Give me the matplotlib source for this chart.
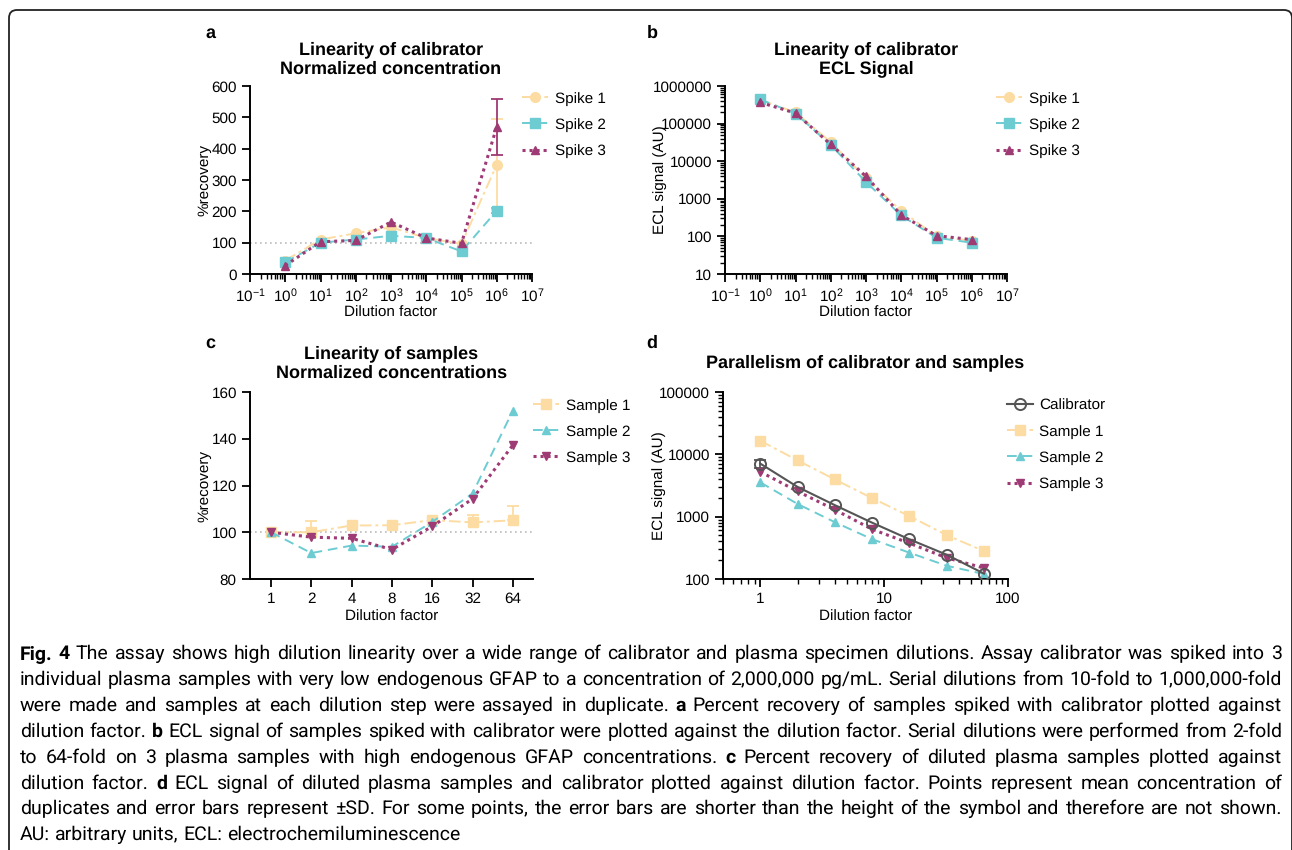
import matplotlib.pyplot as plt
import numpy as np
from matplotlib.patches import FancyBboxPatch
from matplotlib.transforms import IdentityTransform
from matplotlib.ticker import LogLocator, NullLocator, FixedLocator, FuncFormatter, NullFormatter

# ---- data ----
dilution_ab = [1, 10, 100, 1e3, 1e4, 1e5, 1e6]
spike1_rec = [43, 110, 130, 149, 115, 96, 349]
spike2_rec = [37, 100, 110, 122, 115, 72, 202]
spike3_rec = [27, 103, 107, 166, 115, 98, 470]
spike1_rec_sd = [0, 0, 0, 0, 0, 0, 145]
spike2_rec_sd = [0, 0, 0, 0, 0, 0, 8]
spike3_rec_sd = [0, 0, 0, 0, 0, 0, 89]

spike1_ecl = [425000, 200000, 32000, 3500, 480, 100, 77]
spike2_ecl = [440000, 185000, 27000, 2800, 360, 92, 68]
spike3_ecl = [365000, 190000, 28000, 3950, 370, 105, 82]

dilution_cd = [1, 2, 4, 8, 16, 32, 64]
sample1_rec = [100, 100, 102.9, 103, 105.2, 104.2, 105.1]
sample1_rec_sd = [0, 5, 0, 0, 0, 3.3, 6.2]
sample2_rec = [100, 91.1, 94.3, 93.8, 104.4, 116.6, 152]
sample3_rec = [100, 97.9, 97.4, 92.6, 102.5, 114.3, 137.3]

calibrator_ecl = [7100, 3000, 1530, 800, 433, 245, 122]
calibrator_ecl_sd = [1100, 0, 0, 0, 0, 0, 0]
sample1_ecl = [16500, 8000, 3950, 1980, 1020, 505, 280]
sample2_ecl = [3550, 1600, 815, 435, 264, 163, 120]
sample3_ecl = [5250, 2550, 1290, 627, 375, 218, 150]

# words wrapped in ** are bold
caption_lines = [
    "**Fig.** **4** The assay shows high dilution linearity over a wide range of calibrator and plasma specimen dilutions. Assay calibrator was spiked into 3",
    "individual plasma samples with very low endogenous GFAP to a concentration of 2,000,000 pg/mL. Serial dilutions from 10-fold to 1,000,000-fold",
    "were made and samples at each dilution step were assayed in duplicate. **a** Percent recovery of samples spiked with calibrator plotted against",
    "dilution factor. **b** ECL signal of samples spiked with calibrator were plotted against the dilution factor. Serial dilutions were performed from 2-fold",
    "to 64-fold on 3 plasma samples with high endogenous GFAP concentrations. **c** Percent recovery of diluted plasma samples plotted against",
    "dilution factor. **d** ECL signal of diluted plasma samples and calibrator plotted against dilution factor. Points represent mean concentration of",
    "duplicates and error bars represent \u00b1SD. For some points, the error bars are shorter than the height of the symbol and therefore are not shown.",
    "AU: arbitrary units, ECL: electrochemiluminescence",
]

C1 = "#FCDCA2"
C2 = "#6CCCD2"
C3 = "#9E3A74"
CC = "#555555"

plt.rcParams['font.family'] = ['Liberation Sans', 'DejaVu Sans']
plt.rcParams['text.hinting'] = 'no_hinting'

W, H = 1292, 850
fig = plt.figure(figsize=(W / 100, H / 100), dpi=100)


def box(l, t, r, b):
    return [l / W, 1 - b / H, (r - l) / W, (b - t) / H]


def style(ax):
    for s in ['top', 'right']:
        ax.spines[s].set_visible(False)
    for s in ['left', 'bottom']:
        ax.spines[s].set_linewidth(1.4)
    ax.tick_params(which='major', length=6, width=1.3, labelsize=11, direction='out')
    ax.tick_params(which='minor', length=3.5, width=1.0)


plain = FuncFormatter(lambda v, p: f"{v:.0f}")
ls1 = (0, (6, 2, 1.5, 2))
ls2 = (0, (5, 3))
ls3 = (0, (1, 1.3))

series_ab = [
    ("Spike 1", C1, 'o', ls1, 1.4, 7),
    ("Spike 2", C2, 's', ls2, 1.4, 7),
    ("Spike 3", C3, '^', ls3, 2.2, 6),
]


def log_decades(ax):
    ax.set_xscale('log')
    ax.set_xlim(0.1, 1e7)
    ax.xaxis.set_major_locator(LogLocator(base=10, numticks=20))
    ax.xaxis.set_minor_locator(LogLocator(base=10, subs=np.arange(2, 10), numticks=20))
    ax.xaxis.set_minor_formatter(NullFormatter())


def add_legend(ax, x, y):
    ax.legend(loc='upper left', bbox_to_anchor=(x, y), frameon=False, fontsize=11,
              handlelength=1.7, handletextpad=0.45, labelspacing=0.8,
              borderpad=0, borderaxespad=0)


# ---- panel a ----
ax = fig.add_axes(box(250, 86, 532, 274))
style(ax)
log_decades(ax)
ax.axhline(100, color='#bbbbbb', ls=(0, (1, 2)), lw=1.2, zorder=0)
for (lab, col, mk, ls, lw, ms), y, sd in zip(series_ab, [spike1_rec, spike2_rec, spike3_rec],
                                            [spike1_rec_sd, spike2_rec_sd, spike3_rec_sd]):
    x_e = [x for x, s in zip(dilution_ab, sd) if s > 0]
    y_e = [v for v, s in zip(y, sd) if s > 0]
    s_e = [s for s in sd if s > 0]
    ax.errorbar(x_e, y_e, yerr=s_e, fmt='none', ecolor=col, elinewidth=1.3, capsize=4, capthick=1.3)
    ax.plot(dilution_ab, y, color=col, marker=mk, ls=ls, lw=lw, ms=ms, label=lab)
ax.set_ylim(0, 600)
ax.set_yticks([0, 100, 200, 300, 400, 500, 600])
ax.set_title("Linearity of calibrator\nNormalized concentration", fontsize=13, fontweight='bold', pad=9)
ax.set_ylabel("%recovery", fontsize=11)
ax.set_xlabel("Dilution factor", fontsize=11)
ax.yaxis.set_label_coords(-0.135, 0.5)
ax.xaxis.set_label_coords(0.5, -0.17)
add_legend(ax, 0.965, 0.97)

# ---- panel b ----
ax = fig.add_axes(box(725, 86, 1007, 274))
style(ax)
log_decades(ax)
for (lab, col, mk, ls, lw, ms), y in zip(series_ab, [spike1_ecl, spike2_ecl, spike3_ecl]):
    ax.plot(dilution_ab, y, color=col, marker=mk, ls=ls, lw=lw, ms=ms, label=lab)
ax.set_yscale('log')
ax.set_ylim(10, 1e6)
ax.yaxis.set_major_locator(LogLocator(base=10, numticks=20))
ax.yaxis.set_minor_locator(LogLocator(base=10, subs=np.arange(2, 10), numticks=20))
ax.yaxis.set_major_formatter(plain)
ax.yaxis.set_minor_formatter(NullFormatter())
ax.set_title("Linearity of calibrator\nECL Signal", fontsize=13, fontweight='bold', pad=9)
ax.set_ylabel("ECL signal (AU)", fontsize=11)
ax.set_xlabel("Dilution factor", fontsize=11)
ax.yaxis.set_label_coords(-0.206, 0.5)
ax.xaxis.set_label_coords(0.5, -0.17)
add_legend(ax, 0.962, 0.97)

# ---- panel c ----
series_cd = [
    ("Sample 1", C1, 's', ls1, 1.4, 7),
    ("Sample 2", C2, '^', ls2, 1.4, 6),
    ("Sample 3", C3, 'v', ls3, 2.2, 6),
]
ax = fig.add_axes(box(250, 392, 533, 579))
style(ax)
ax.set_xscale('log', base=2)
ax.set_xlim(2 ** -0.52, 2 ** 6.5)
ax.xaxis.set_major_locator(FixedLocator(dilution_cd))
ax.xaxis.set_major_formatter(plain)
ax.xaxis.set_minor_locator(NullLocator())
ax.axhline(100, color='#bbbbbb', ls=(0, (1, 2)), lw=1.2, zorder=0)
x_e = [x for x, s in zip(dilution_cd, sample1_rec_sd) if s > 0]
y_e = [v for v, s in zip(sample1_rec, sample1_rec_sd) if s > 0]
s_e = [s for s in sample1_rec_sd if s > 0]
ax.errorbar(x_e, y_e, yerr=[[0] * len(s_e), s_e], fmt='none', ecolor=C1, elinewidth=1.3,
            capsize=4, capthick=1.3)
for (lab, col, mk, ls, lw, ms), y in zip(series_cd, [sample1_rec, sample2_rec, sample3_rec]):
    ax.plot(dilution_cd, y, color=col, marker=mk, ls=ls, lw=lw, ms=ms, label=lab)
ax.set_ylim(80, 160)
ax.set_yticks([80, 100, 120, 140, 160])
ax.set_title("Linearity of samples\nNormalized concentrations", fontsize=13, fontweight='bold', pad=10)
ax.set_ylabel("%recovery", fontsize=11)
ax.set_xlabel("Dilution factor", fontsize=11)
ax.yaxis.set_label_coords(-0.135, 0.5)
ax.xaxis.set_label_coords(0.5, -0.165)
add_legend(ax, 1.0, 0.965)

# ---- panel d ----
ax = fig.add_axes(box(723, 392, 1008, 579))
style(ax)
ax.set_xscale('log')
ax.set_yscale('log')
ax.set_xlim(0.5, 100)
ax.set_ylim(100, 1e5)
ax.xaxis.set_major_locator(FixedLocator([1, 10, 100]))
ax.xaxis.set_minor_locator(LogLocator(base=10, subs=np.arange(2, 10), numticks=20))
ax.xaxis.set_major_formatter(plain)
ax.xaxis.set_minor_formatter(NullFormatter())
ax.yaxis.set_major_locator(LogLocator(base=10, numticks=20))
ax.yaxis.set_minor_locator(LogLocator(base=10, subs=np.arange(2, 10), numticks=20))
ax.yaxis.set_major_formatter(plain)
ax.yaxis.set_minor_formatter(NullFormatter())
ax.errorbar([dilution_cd[0]], [calibrator_ecl[0]], yerr=[calibrator_ecl_sd[0]], fmt='none',
            ecolor=CC, elinewidth=1.3, capsize=4, capthick=1.3)
ax.plot(dilution_cd, calibrator_ecl, color=CC, marker='o', mfc='none', mec=CC, mew=1.4,
        ls='-', lw=1.5, ms=8, label="Calibrator", zorder=3)
for (lab, col, mk, ls, lw, ms), y in zip(series_cd, [sample1_ecl, sample2_ecl, sample3_ecl]):
    ax.plot(dilution_cd, y, color=col, marker=mk, ls=ls, lw=lw, ms=ms, label=lab)
ax.set_title("Parallelism of calibrator and samples", fontsize=13, fontweight='bold', pad=18)
ax.set_ylabel("ECL signal (AU)", fontsize=11)
ax.set_xlabel("Dilution factor", fontsize=11)
ax.yaxis.set_label_coords(-0.2, 0.5)
ax.xaxis.set_label_coords(0.5, -0.165)
add_legend(ax, 0.995, 0.965)

# ---- panel letters ----
for lab, x, y in [("a", 210, 33), ("b", 652, 33), ("c", 210, 343), ("d", 652, 343)]:
    fig.text(x / W, 1 - y / H, lab, fontsize=13, fontweight='bold', ha='center', va='center')

# ---- caption (justified, word by word) ----
CAP_FS = 14
CAP_FONT = 'Roboto'
CAP_X0, CAP_X1 = 20, 1282
caption_y = [653, 679, 705, 731, 757, 783, 808, 834]
renderer = fig.canvas.get_renderer()


def cap_text(x, y, word, bold):
    return fig.text(x / W, 1 - y / H, word, fontsize=CAP_FS, family=CAP_FONT,
                    fontweight='bold' if bold else 'normal', ha='left', va='baseline')


def text_width(word, bold):
    t = cap_text(0, 0, word, bold)
    w = t.get_window_extent(renderer).width
    t.remove()
    return w


space_w = text_width("x x", False) - text_width("xx", False)
for i, (line, yc) in enumerate(zip(caption_lines, caption_y)):
    words = []
    for tok in line.split(" "):
        bold = tok.startswith("**") and tok.endswith("**")
        words.append((tok.strip("*") if bold else tok, bold))
    widths = [text_width(w, b) for w, b in words]
    last = i == len(caption_lines) - 1
    gap = space_w if last else (CAP_X1 - CAP_X0 - sum(widths)) / (len(words) - 1)
    x = CAP_X0
    for (w, b), wd in zip(words, widths):
        cap_text(x, yc + 6, w, b)
        x += wd + gap

# ---- rounded frame ----
frame = FancyBboxPatch((9, -10), 1283, H, boxstyle='round,pad=0,rounding_size=8',
                       transform=IdentityTransform(), fill=False, ec='#222222', lw=1.3,
                       clip_on=False)
fig.patches.append(frame)

fig.savefig("out.png", dpi=100)
